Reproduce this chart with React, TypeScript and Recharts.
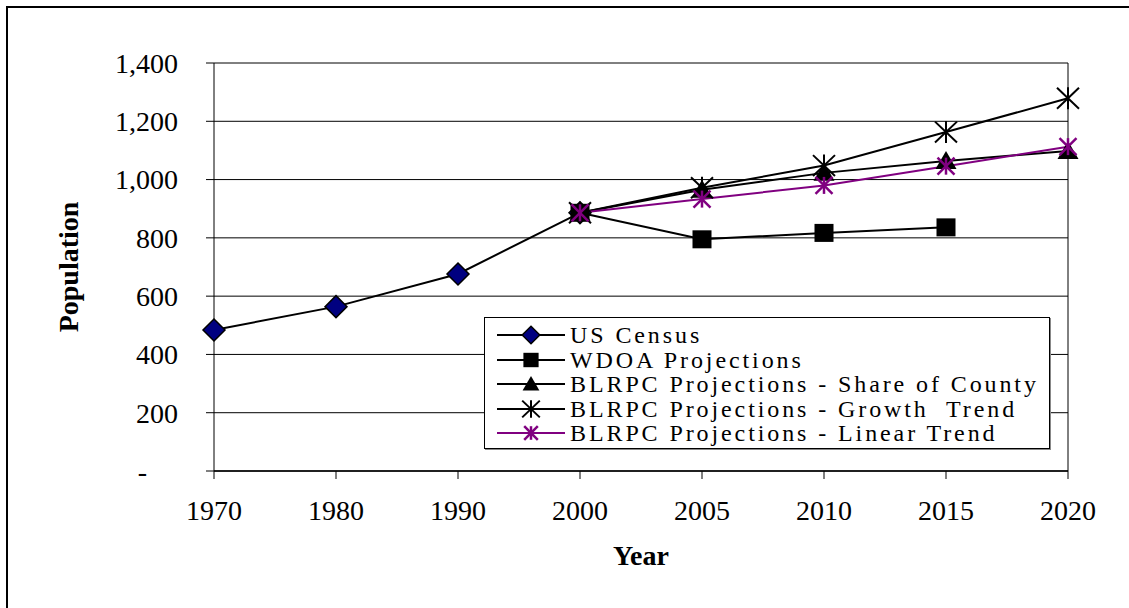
import React from 'react';
import {
  LineChart,
  Line,
  XAxis,
  YAxis,
  CartesianGrid,
  Legend,
  ReferenceLine,
  Label,
} from 'recharts';

// Population history and projections by year
const years = ['1970', '1980', '1990', '2000', '2005', '2010', '2015', '2020'];
const usCensus = [484, 564, 676, 886, null, null, null, null];
const wdoaProjections = [null, null, null, 886, 795, 817, 836, null];
const shareOfCounty = [null, null, null, 886, 965, 1023, 1064, 1098];
const growthTrend = [null, null, null, 886, 972, 1048, 1163, 1279];
const linearTrend = [null, null, null, 886, 933, 980, 1046, 1113];
const yTicks = [0, 200, 400, 600, 800, 1000, 1200, 1400];

const FONT = '"Liberation Serif", "Times New Roman", serif';
const PURPLE = '#800080';

type MarkerKind = 'diamond' | 'square' | 'triangle' | 'star' | 'asterisk';

const series: { key: string; name: string; color: string; marker: MarkerKind }[] = [
  { key: 'usCensus', name: 'US Census', color: '#000', marker: 'diamond' },
  { key: 'wdoa', name: 'WDOA Projections', color: '#000', marker: 'square' },
  { key: 'share', name: 'BLRPC Projections - Share of County', color: '#000', marker: 'triangle' },
  { key: 'growth', name: 'BLRPC Projections - Growth  Trend', color: '#000', marker: 'star' },
  { key: 'linear', name: 'BLRPC Projections - Linear Trend', color: PURPLE, marker: 'asterisk' },
];

const data = years.map((year, i) => ({
  year,
  usCensus: usCensus[i],
  wdoa: wdoaProjections[i],
  share: shareOfCounty[i],
  growth: growthTrend[i],
  linear: linearTrend[i],
}));

function Marker({ kind, cx, cy, s = 1 }: { kind: MarkerKind; cx: number; cy: number; s?: number }) {
  switch (kind) {
    case 'diamond': {
      const r = 11 * s;
      return (
        <polygon
          points={`${cx},${cy - r} ${cx + r},${cy} ${cx},${cy + r} ${cx - r},${cy}`}
          fill="#000080"
          stroke="#000"
          strokeWidth={1.5}
        />
      );
    }
    case 'square':
      return <rect x={cx - 9.5 * s} y={cy - 9 * s} width={19 * s} height={18 * s} fill="#000" />;
    case 'triangle':
      return (
        <polygon
          points={`${cx},${cy - 10 * s} ${cx + 10.5 * s},${cy + 8 * s} ${cx - 10.5 * s},${cy + 8 * s}`}
          fill="#000"
        />
      );
    case 'star': {
      const r = 11 * s;
      return (
        <g stroke="#000" strokeWidth={2}>
          <line x1={cx - r} y1={cy - r * 0.95} x2={cx + r} y2={cy + r * 0.95} />
          <line x1={cx - r} y1={cy + r * 0.95} x2={cx + r} y2={cy - r * 0.95} />
          <line x1={cx} y1={cy - r} x2={cx} y2={cy + r} />
        </g>
      );
    }
    case 'asterisk': {
      const r = 8.5 * s;
      return (
        <g stroke={PURPLE} strokeWidth={2.5}>
          <line x1={cx - r} y1={cy - r} x2={cx + r} y2={cy + r} />
          <line x1={cx - r} y1={cy + r} x2={cx + r} y2={cy - r} />
          <line x1={cx} y1={cy - r} x2={cx} y2={cy + r} />
        </g>
      );
    }
    default:
      return null;
  }
}

const makeDot = (kind: MarkerKind, key: string) => (p: any) => {
  const k = `${key}-${p.index}`;
  if (p.cx == null || p.cy == null || p.value == null) return <g key={k} />;
  return (
    <g key={k}>
      <Marker kind={kind} cx={p.cx} cy={p.cy} />
    </g>
  );
};

const YTick = (props: any) => {
  const { x, y, payload } = props;
  const v = payload.value as number;
  const text = v === 0 ? '-' : v.toLocaleString('en-US');
  return (
    <text
      x={v === 0 ? x - 31 : x}
      y={y}
      dy="0.35em"
      textAnchor="end"
      fontFamily={FONT}
      fontSize={28}
      fill="#000"
    >
      {text}
    </text>
  );
};

const PopulationLabel = (props: any) => {
  const vb = props.viewBox || { x: 0, y: 0, height: 0 };
  const cx = vb.x + 68;
  const cy = vb.y + vb.height / 2;
  return (
    <text
      x={cx}
      y={cy}
      transform={`rotate(-90, ${cx}, ${cy})`}
      textAnchor="middle"
      dominantBaseline="central"
      fontFamily={FONT}
      fontSize={28}
      fontWeight="bold"
      fill="#000"
    >
      Population
    </text>
  );
};

const renderLegend = () => (
  <div
    style={{
      boxSizing: 'border-box',
      width: 566,
      height: 132,
      border: '1px solid #000',
      boxShadow: '1px 1px 0 #888',
      background: '#fff',
      padding: '5px 0 0 12px',
      fontFamily: FONT,
      fontSize: 24,
      letterSpacing: 2.9,
      color: '#000',
    }}
  >
    {series.map((s) => (
      <div
        key={s.key}
        style={{
          display: 'flex',
          alignItems: 'center',
          height: 24.5,
          lineHeight: '24.5px',
          whiteSpace: 'pre',
        }}
      >
        <svg width={70} height={24} style={{ flex: 'none', overflow: 'visible' }}>
          <line x1={0} y1={12} x2={68} y2={12} stroke={s.color} strokeWidth={2} />
          <Marker kind={s.marker} cx={34} cy={12} s={0.8} />
        </svg>
        <span style={{ marginLeft: 3, fontFamily: FONT }}>{s.name}</span>
      </div>
    ))}
  </div>
);

export default function App() {
  return (
    <div
      style={{
        position: 'absolute',
        left: 0,
        top: 0,
        width: 1129,
        height: 608,
        background: '#fff',
        overflow: 'hidden',
      }}
    >
      <div
        style={{
          position: 'absolute',
          left: 6,
          top: 6,
          width: 1200,
          height: 700,
          borderLeft: '2px solid #000',
          borderTop: '2px solid #000',
        }}
      />
      <LineChart
        width={1129}
        height={608}
        data={data}
        margin={{ top: 63, right: 61, bottom: 0, left: 0 }}
      >
        <CartesianGrid vertical={false} stroke="#000" strokeWidth={1} />
        <XAxis
          dataKey="year"
          interval={0}
          height={137}
          tickSize={8}
          tickMargin={21}
          axisLine={{ stroke: '#000', strokeWidth: 1.5 }}
          tickLine={{ stroke: '#000' }}
          tick={{ fontFamily: FONT, fontSize: 28, fill: '#000' }}
        >
          <Label
            value="Year"
            position="insideBottom"
            offset={43}
            style={{ fontFamily: FONT, fontSize: 28, fontWeight: 'bold', fill: '#000' }}
          />
        </XAxis>
        <YAxis
          domain={[0, 1400]}
          ticks={yTicks}
          width={214}
          tickSize={8}
          tickMargin={28}
          axisLine={{ stroke: '#000' }}
          tickLine={{ stroke: '#000' }}
          tick={<YTick />}
        >
          <Label content={<PopulationLabel />} />
        </YAxis>
        <ReferenceLine x="2020" stroke="#000" strokeWidth={1} />
        <Legend
          layout="vertical"
          align="center"
          verticalAlign="middle"
          content={renderLegend}
          wrapperStyle={{ left: 484, top: 317, width: 566, height: 132 }}
        />
        {series.map((s) => (
          <Line
            key={s.key}
            dataKey={s.key}
            name={s.name}
            stroke={s.color}
            strokeWidth={2}
            type="linear"
            isAnimationActive={false}
            dot={makeDot(s.marker, s.key)}
            activeDot={false}
          />
        ))}
      </LineChart>
    </div>
  );
}
